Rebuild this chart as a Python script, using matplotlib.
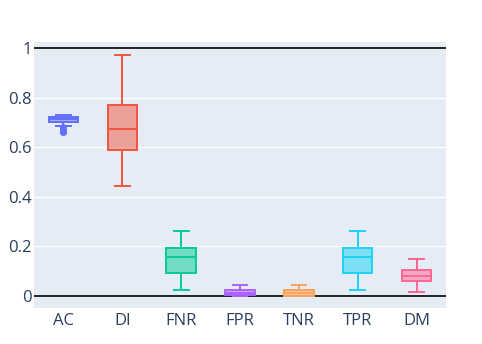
import matplotlib
matplotlib.use("Agg")
import matplotlib.pyplot as plt
from matplotlib.colors import to_rgba

# box statistics
labels = ["AC", "DI", "FNR", "FPR", "TNR", "TPR", "DM"]
q1 = [0.703, 0.589, 0.093, 0.004, 0.0, 0.093, 0.060]
med = [0.712, 0.673, 0.157, 0.014, 0.010, 0.157, 0.081]
q3 = [0.721, 0.770, 0.194, 0.024, 0.024, 0.194, 0.105]
whislo = [0.685, 0.444, 0.024, 0.0, 0.0, 0.024, 0.016]
whishi = [0.730, 0.972, 0.262, 0.044, 0.044, 0.262, 0.149]
ac_fliers = [0.680, 0.675, 0.671, 0.667, 0.663, 0.660]
colors = ["#636efa", "#EF553B", "#00cc96", "#ab63fa", "#FFA15A", "#19d3f3", "#FF6692"]

plt.rcParams["font.family"] = ["Open Sans", "DejaVu Sans"]

fig = plt.figure(figsize=(4.82, 3.44), dpi=100)
ax = fig.add_axes([0.0705, 0.105, 0.855, 0.773])
ax.set_facecolor("#E5ECF6")
for s in ax.spines.values():
    s.set_visible(False)

ax.set_ylim(-0.048, 1.024)
ax.set_xlim(-0.5, len(labels) - 0.5)
ax.set_yticks([0, 0.2, 0.4, 0.6, 0.8, 1])
ax.set_yticklabels(["0", "0.2", "0.4", "0.6", "0.8", "1"])
ax.grid(True, axis="y", color="white", linewidth=0.9)
ax.set_axisbelow(True)
ax.tick_params(length=0, labelsize=12, labelcolor="#2a3f5f", pad=4)
ax.tick_params(axis="y", pad=1.5)

ax.axhline(0, color="#222222", linewidth=1.4, zorder=1)
ax.axhline(1, color="#222222", linewidth=1.4, zorder=1)

for i, lab in enumerate(labels):
    st = {"med": med[i], "q1": q1[i], "q3": q3[i],
          "whislo": whislo[i], "whishi": whishi[i],
          "fliers": ac_fliers if lab == "AC" else [], "label": lab}
    c = colors[i]
    ax.bxp([st], positions=[i], widths=0.5, capwidths=0.25, patch_artist=True,
           boxprops=dict(facecolor=to_rgba(c, 0.5), edgecolor=c, linewidth=1.4),
           medianprops=dict(color=c, linewidth=1.4),
           whiskerprops=dict(color=c, linewidth=1.4),
           capprops=dict(color=c, linewidth=1.4),
           flierprops=dict(marker="o", markersize=4, markerfacecolor=c,
                           markeredgecolor=c, alpha=0.8),
           manage_ticks=False, zorder=3)

ax.set_xticks(range(len(labels)))
ax.set_xticklabels(labels)

fig.savefig("out.png", dpi=100)
